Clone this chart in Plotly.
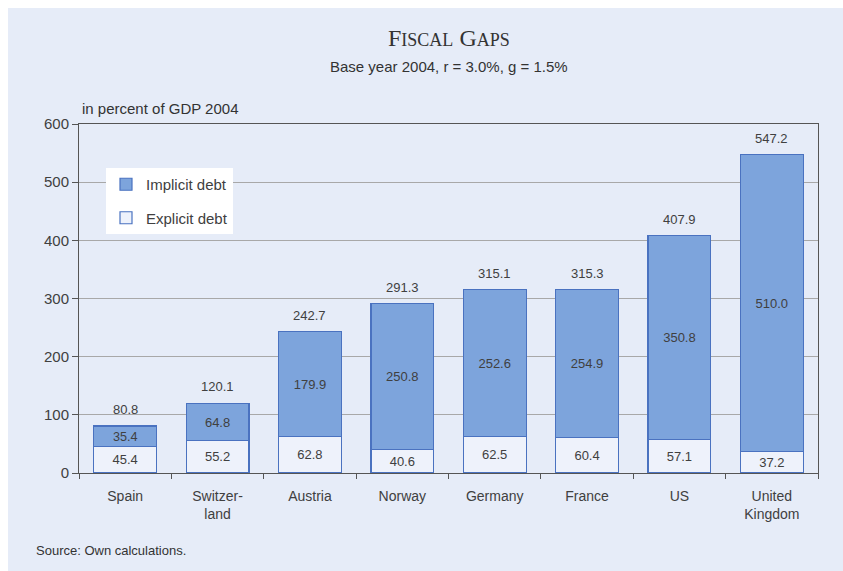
import plotly.graph_objects as go

countries = ["Spain", "Switzer-<br>land", "Austria", "Norway", "Germany", "France", "US", "United<br>Kingdom"]
explicit = [45.4, 55.2, 62.8, 40.6, 62.5, 60.4, 57.1, 37.2]
implicit = [35.4, 64.8, 179.9, 250.8, 252.6, 254.9, 350.8, 510.0]
totals = [80.8, 120.1, 242.7, 291.3, 315.1, 315.3, 407.9, 547.2]

W, H = 843, 571
L, R, T, B = 79, 818, 124, 473

def px(x):
    return (x - L) / (R - L)

def py(y):
    return (B - y) / (B - T)

fig = go.Figure()
fig.add_trace(go.Bar(
    x=countries, y=explicit, name="Explicit debt", legendgroup="e", legendrank=2,
    marker=dict(color="#EEF2FB", line=dict(color="#4A72C0", width=1.2)),
    text=[f"{v:.1f}" for v in explicit], textposition="inside",
    insidetextanchor="middle", textfont=dict(color="#404040", size=13),
    width=0.68,
))
fig.add_trace(go.Bar(
    x=countries, y=implicit, name="Implicit debt", legendgroup="i", legendrank=1,
    marker=dict(color="#7DA4DC", line=dict(color="#4A72C0", width=1.2)),
    text=[f"{v:.1f}" for v in implicit], textposition="inside",
    insidetextanchor="middle", textfont=dict(color="#404040", size=13),
    width=0.68,
))

for c, t in zip(countries, totals):
    fig.add_annotation(x=c, y=t, text=f"{t:.1f}", showarrow=False,
                       yanchor="bottom", yshift=7,
                       font=dict(color="#404040", size=13))

fig.add_shape(type="rect", xref="paper", yref="paper",
              x0=px(8), x1=px(W + 5), y0=py(H + 5), y1=py(8),
              fillcolor="#E6ECF8", line=dict(width=0), layer="below")

fig.update_layout(
    width=W, height=H,
    margin=dict(l=L, r=W - R, t=T, b=H - B),
    paper_bgcolor="white", plot_bgcolor="white",
    barmode="stack", bargap=0.32,
    font=dict(family="Liberation Sans, Arial", color="#404040", size=13),
    legend=dict(x=px(106), y=py(168), xanchor="left", yanchor="top",
                bgcolor="white", traceorder="grouped", tracegroupgap=11,
                font=dict(size=15, color="#404040"), itemwidth=30),
    showlegend=True,
    xaxis=dict(showline=True, linecolor="#555555", mirror=True, ticks="outside",
               tickson="boundaries", ticklen=5, tickcolor="#555555",
               ticklabelstandoff=10,
               tickfont=dict(size=14, color="#404040")),
    yaxis=dict(range=[0, 600], dtick=100, showline=True, linecolor="#555555",
               mirror=True, ticks="outside", ticklen=6, tickcolor="#555555",
               showgrid=True, gridcolor="#A8A8A8", gridwidth=1,
               tickfont=dict(size=15, color="#404040"), zeroline=False),
)

fig.add_annotation(xref="paper", yref="paper", x=0.5, y=py(38),
                   text="F<span style='font-size:18px'>ISCAL</span> G<span style='font-size:18px'>APS</span>",
                   showarrow=False, font=dict(family="Liberation Serif, Times New Roman", size=24, color="#333333"),
                   xanchor="center", yanchor="middle")
fig.add_annotation(xref="paper", yref="paper", x=0.5, y=py(66),
                   text="Base year 2004, r = 3.0%, g = 1.5%",
                   showarrow=False, font=dict(size=15, color="#333333"),
                   xanchor="center", yanchor="middle")
fig.add_annotation(xref="paper", yref="paper", x=px(80), y=py(108),
                   text="in percent of GDP 2004",
                   showarrow=False, font=dict(size=15, color="#333333"),
                   xanchor="left", yanchor="middle")
fig.add_annotation(xref="paper", yref="paper", x=px(34), y=py(550),
                   text="Source: Own calculations.",
                   showarrow=False, font=dict(size=13, color="#333333"),
                   xanchor="left", yanchor="middle")

fig.write_html("out.html")
